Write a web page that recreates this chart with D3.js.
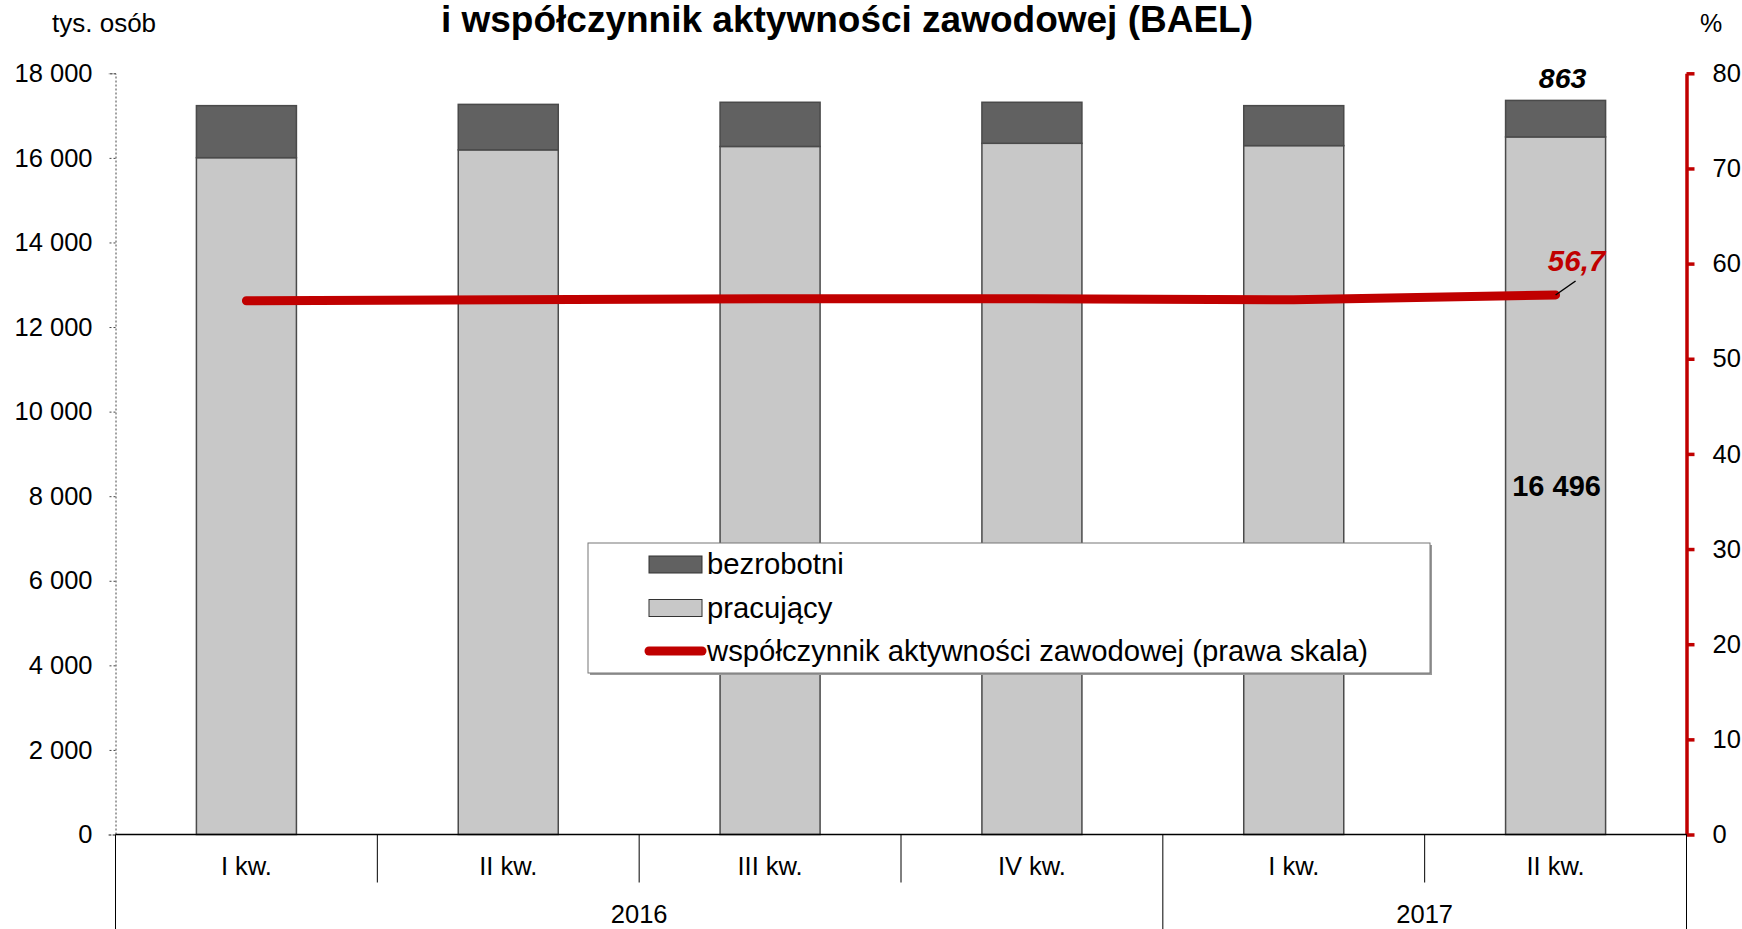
<!DOCTYPE html>
<html>
<head>
<meta charset="utf-8">
<script src="https://cdn.jsdelivr.net/npm/d3@7"></script>
<style>
  body { margin: 0; background: #fff; }
  svg { display: block; font-family: "Liberation Sans", Arial, sans-serif; }
</style>
</head>
<body>
<svg id="wykres"></svg>
<script>
// dane (tys. osób, %)
const kwartaly = ['I kw.', 'II kw.', 'III kw.', 'IV kw.', 'I kw.', 'II kw.'];
const lata = ['2016', '2017'];
const kwartalowWRoku = [4, 2];
const pracujacy = [16005, 16190, 16270, 16345, 16290, 16496];
const bezrobotni = [1230, 1075, 1045, 970, 945, 863];
const wspolczynnik = [56.1, 56.2, 56.3, 56.3, 56.2, 56.7];
const tickiLewe = [0, 2000, 4000, 6000, 8000, 10000, 12000, 14000, 16000, 18000];
const tickiPrawe = [0, 10, 20, 30, 40, 50, 60, 70, 80];

const szerokosc = 1742, wysokosc = 929;
const margem = { esquerda: 115.5, direita: 55.5, superior: 73.3, inferior: 94.5 };
const larg = szerokosc - margem.esquerda - margem.direita;
const alt = wysokosc - margem.superior - margem.inferior;

const czerwony = '#c00000';
const pl = d3.formatLocale({ decimal: ',', thousands: ' ', grouping: [3], currency: ['', ''] });
const fmt = pl.format(',d');

const svg = d3.select('#wykres').attr('width', szerokosc).attr('height', wysokosc);
const g = svg.append('g').attr('transform', 'translate(' + margem.esquerda + ',' + margem.superior + ')');

const idx = kwartaly.map((d, i) => i);
const fnX = d3.scaleBand().domain(idx).range([0, larg]).paddingInner(0.618).paddingOuter(0.309);
const krok = larg / kwartaly.length;
const fnY = d3.scaleLinear().domain([0, 18000]).range([alt, 0]);
const fnY2 = d3.scaleLinear().domain([0, 80]).range([alt, 0]);

// tytuł (druga linia, pierwsza poza kadrem)
svg.append('text')
  .attr('x', 847).attr('y', 32)
  .attr('text-anchor', 'middle')
  .style('font-size', '37px').style('font-weight', 'bold')
  .text('i współczynnik aktywności zawodowej (BAEL)');

svg.append('text').attr('x', 52).attr('y', 32).style('font-size', '26px').text('tys. osób');
svg.append('text').attr('x', 1700).attr('y', 32).style('font-size', '25px').text('%');

// słupki
const serie = [
  { nazwa: 'pracujący', wartosci: pracujacy, kolor: '#c8c8c8' },
  { nazwa: 'bezrobotni', wartosci: bezrobotni, kolor: '#616161' }
];
idx.forEach(i => {
  let baza = 0;
  serie.forEach(s => {
    const v = s.wartosci[i];
    g.append('rect')
      .attr('x', fnX(i))
      .attr('y', fnY(baza + v))
      .attr('width', fnX.bandwidth())
      .attr('height', fnY(baza) - fnY(baza + v))
      .attr('fill', s.kolor)
      .attr('stroke', '#4a4a4a')
      .attr('stroke-width', 1.5);
    baza += v;
  });
});

// oś lewa (kropkowana)
const osLewa = g.append('g').call(d3.axisLeft(fnY).tickValues(tickiLewe).tickSize(7).tickFormat(fmt));
osLewa.select('.domain').attr('stroke', '#444').attr('stroke-dasharray', '2,2');
osLewa.selectAll('.tick line').attr('stroke', '#444').attr('stroke-dasharray', '2,2');
osLewa.selectAll('.tick text').attr('x', -23).style('font-size', '25.5px').style('font-family', 'Liberation Sans, Arial, sans-serif').attr('fill', '#000');

// oś prawa (czerwona)
const osPrawa = g.append('g').attr('transform', 'translate(' + larg + ',0)')
  .call(d3.axisRight(fnY2).tickValues(tickiPrawe).tickSize(8).tickSizeOuter(0));
osPrawa.select('.domain').attr('stroke', czerwony).attr('stroke-width', 3.5);
osPrawa.selectAll('.tick line').attr('stroke', czerwony).attr('stroke-width', 3.5);
osPrawa.selectAll('.tick text').attr('x', 26).style('font-size', '25.5px').style('font-family', 'Liberation Sans, Arial, sans-serif').attr('fill', '#000');

// oś dolna z podziałem na kwartały i lata
g.append('line').attr('x1', 0).attr('x2', larg).attr('y1', alt).attr('y2', alt).attr('stroke', '#000').attr('stroke-width', 1.5);
const granice = [];
let licz = 0;
kwartalowWRoku.forEach(k => { granice.push(licz); licz += k; });
granice.push(licz);
d3.range(kwartaly.length + 1).forEach(k => {
  const pelna = granice.includes(k);
  g.append('line')
    .attr('x1', k * krok).attr('x2', k * krok)
    .attr('y1', alt).attr('y2', pelna ? wysokosc - margem.superior : alt + 48)
    .attr('stroke', '#000').attr('stroke-width', 1);
});
g.selectAll('.kwartal').data(kwartaly).enter().append('text')
  .attr('x', (d, i) => fnX(i) + fnX.bandwidth() / 2)
  .attr('y', alt + 41)
  .attr('text-anchor', 'middle')
  .style('font-size', '25.5px')
  .text(d => d);
lata.forEach((rok, j) => {
  g.append('text')
    .attr('x', (granice[j] + granice[j + 1]) / 2 * krok)
    .attr('y', alt + 89)
    .attr('text-anchor', 'middle')
    .style('font-size', '25.5px')
    .text(rok);
});

// linia współczynnika
const linia = d3.line().x((d, i) => fnX(i) + fnX.bandwidth() / 2).y(d => fnY2(d));
g.append('path')
  .datum(wspolczynnik)
  .attr('d', linia)
  .attr('fill', 'none')
  .attr('stroke', czerwony)
  .attr('stroke-width', 9)
  .attr('stroke-linecap', 'round')
  .attr('stroke-linejoin', 'round');

// etykiety ostatniego kwartału
const ost = kwartaly.length - 1;
const xOst = fnX(ost) + fnX.bandwidth() / 2;
g.append('text')
  .attr('x', xOst + 7).attr('y', fnY(pracujacy[ost] + bezrobotni[ost]) - 12)
  .attr('text-anchor', 'middle')
  .style('font-size', '28.5px').style('font-weight', 'bold').style('font-style', 'italic')
  .text(fmt(bezrobotni[ost]));
g.append('text')
  .attr('x', xOst + 1).attr('y', fnY(8000))
  .attr('text-anchor', 'middle')
  .style('font-size', '29px').style('font-weight', 'bold')
  .text(fmt(pracujacy[ost]));
g.append('line')
  .attr('x1', xOst).attr('y1', fnY2(wspolczynnik[ost]))
  .attr('x2', xOst + 20).attr('y2', fnY2(wspolczynnik[ost]) - 14)
  .attr('stroke', '#000').attr('stroke-width', 1.5);
g.append('text')
  .attr('x', xOst + 21).attr('y', fnY2(wspolczynnik[ost]) - 24)
  .attr('text-anchor', 'middle')
  .attr('fill', czerwony)
  .style('font-size', '29.5px').style('font-weight', 'bold').style('font-style', 'italic')
  .text(pl.format('.1f')(wspolczynnik[ost]));

// legenda
const leg = svg.append('g').attr('transform', 'translate(588,543)');
leg.append('rect').attr('x', 2).attr('y', 2).attr('width', 842).attr('height', 130).attr('fill', '#999');
leg.append('rect').attr('width', 842).attr('height', 130).attr('fill', '#fff').attr('stroke', '#777').attr('stroke-width', 1);
const pozycje = [
  { nazwa: 'bezrobotni', kolor: '#616161', typ: 'rect' },
  { nazwa: 'pracujący', kolor: '#c8c8c8', typ: 'rect' },
  { nazwa: 'współczynnik aktywności zawodowej (prawa skala)', kolor: czerwony, typ: 'line' }
];
pozycje.forEach((p, i) => {
  const cy = 21 + i * 43.5;
  if (p.typ === 'rect') {
    leg.append('rect').attr('x', 61).attr('y', cy - 8).attr('width', 53).attr('height', 17)
      .attr('fill', p.kolor).attr('stroke', '#333').attr('stroke-width', 1);
  } else {
    leg.append('line').attr('x1', 61).attr('x2', 114).attr('y1', cy).attr('y2', cy)
      .attr('stroke', p.kolor).attr('stroke-width', 9).attr('stroke-linecap', 'round');
  }
  leg.append('text').attr('x', 119).attr('y', cy + 10).style('font-size', '29.3px').text(p.nazwa);
});
</script>
</body>
</html>
